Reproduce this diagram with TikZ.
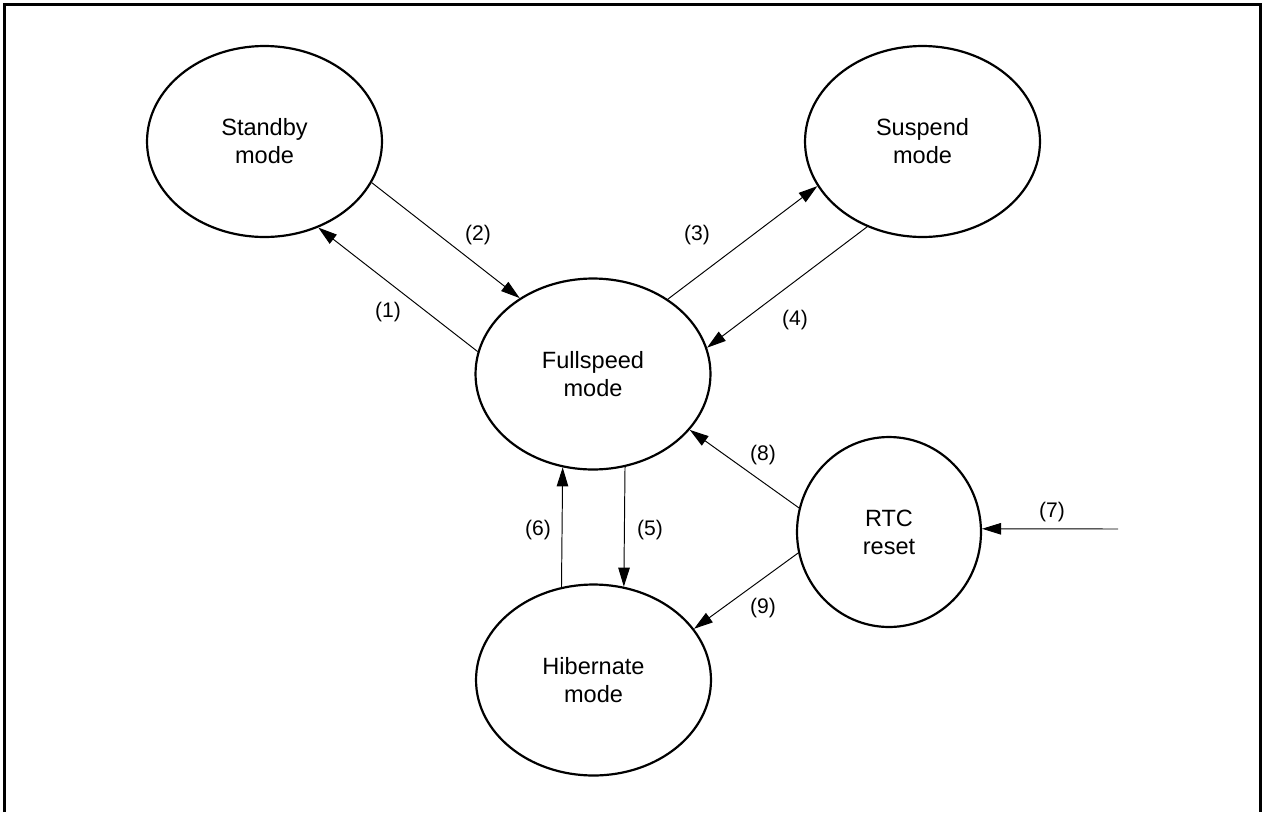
\documentclass[tikz,border=0pt]{standalone}
\usepackage{fontspec}
\setmainfont{Liberation Sans}
\usetikzlibrary{arrows.meta,shapes.geometric}

\begin{document}
\begin{tikzpicture}[x=0.02cm,y=-0.02cm,>={Triangle[length=3.8mm,width=2.3mm]},
  mode/.style={draw,ellipse,line width=1.25pt,minimum width=4.7cm,minimum height=3.82cm,
    inner sep=0pt,align=center,font=\fontsize{13.4}{16}\selectfont},
  trans/.style={->,line width=0.55pt},
  lbl/.style={inner sep=0pt,font=\fontsize{12}{14}\selectfont}]
\useasboundingbox (0,0) rectangle (1264,812);
\draw[line width=1.6pt] (4.5,812) -- (4.5,4.5) -- (1260.5,4.5) -- (1260.5,812);

\node[mode] (sb) at (264.5,141.5) {Standby\\mode};
\node[mode] (sp) at (922.5,141.5) {Suspend\\mode};
\node[mode] (fs) at (593,374) {Fullspeed\\mode};
\node[mode] (hb) at (593.5,680) {Hibernate\\mode};
\node[mode,minimum width=3.68cm,minimum height=3.8cm] (rtc) at (889,532) {RTC\\reset};
\coordinate (in) at (1118,529);

\foreach \a/\b in {fs.169/sb.-58, sb.-21/fs.134, fs.45/sp.203, sp.-123/fs.13,
  fs.-71/hb.72, hb.109/fs.-108, in/rtc.2, rtc.165/fs.-30, rtc.193/hb.27}
  \draw[trans] (\a) -- (\b);

\foreach \n/\x/\y in {1/388/312, 2/478/235, 3/697/235, 4/795/320, 5/650/530,
  6/538/530, 7/1052/512, 8/763/455, 9/763/608}
  \node[lbl] (l\n) at (\x,\y) {(\n)};
\end{tikzpicture}
\end{document}
